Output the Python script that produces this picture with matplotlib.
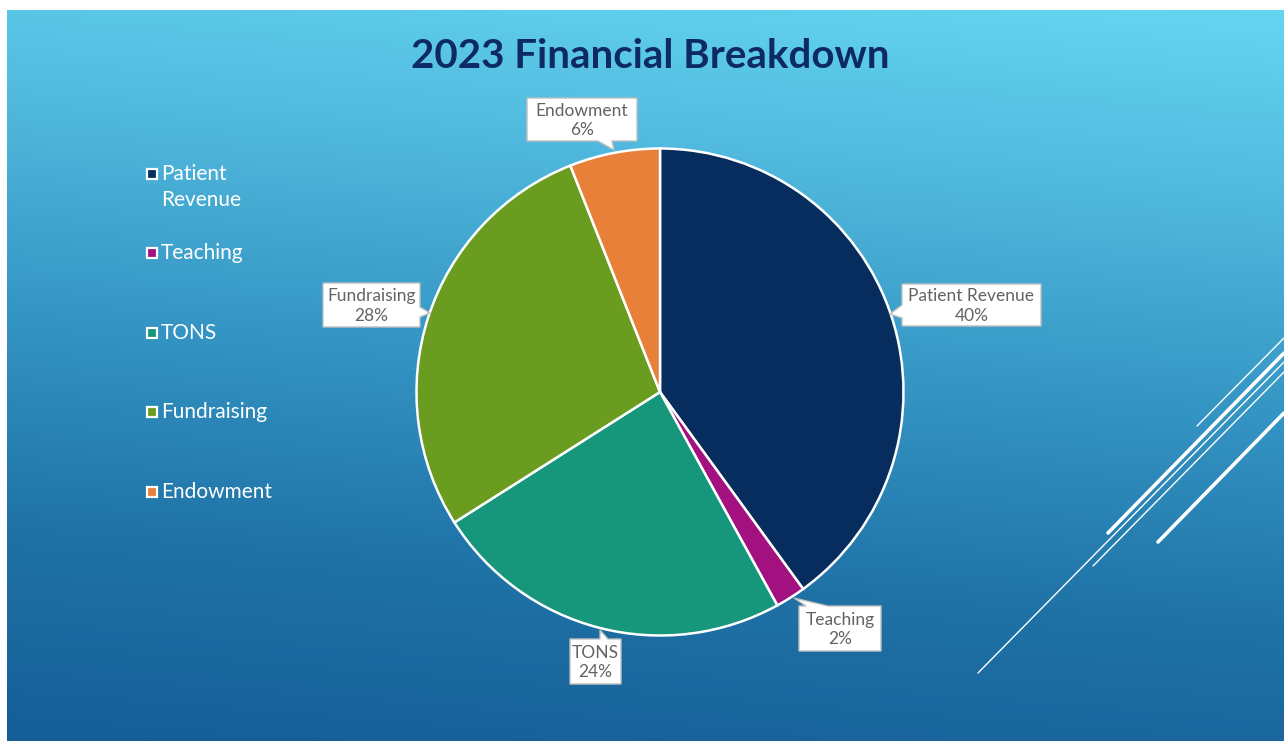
import numpy as np
import matplotlib
matplotlib.use("Agg")
import matplotlib.pyplot as plt
from matplotlib.patches import Polygon, Rectangle
from matplotlib.colors import LinearSegmentedColormap

# ---- data ----
categories = ["Patient Revenue", "Teaching", "TONS", "Fundraising", "Endowment"]
legend_labels = ["Patient\nRevenue", "Teaching", "TONS", "Fundraising", "Endowment"]
values = [40, 2, 24, 28, 6]
colors = ["#062d5e", "#a3107f", "#16967b", "#6a9c1f", "#e8803a"]
title = "2023 Financial Breakdown"

W, H = 1284, 741
fig = plt.figure(figsize=(W / 100, H / 100), dpi=100)
fig.patch.set_facecolor("white")
ax = fig.add_axes([0, 0, 1, 1])

def Y(py):
    return H - py

# background gradient (slide area starts after small white margins)
x0s, y0s = 7, 10
gx = np.linspace(0, 1, 200)
gy = np.linspace(0, 1, 200)
GX, GY = np.meshgrid(gx, gy)
t = np.clip(0.88 * GY + 0.12 * (1 - GX), 0, 1)
cmap = LinearSegmentedColormap.from_list(
    "bg", ["#64d5f1", "#4fb6db", "#3393c2", "#1f72a6", "#165e98"])
ax.imshow(t, cmap=cmap, extent=(x0s, W, 0, Y(y0s)), origin="upper",
          aspect="auto", zorder=0, interpolation="bilinear")

# decorative lines on the right
deco = [((1197, 426), (1284, 338), 1.0),
        ((1108, 533), (1284, 353), 2.6),
        ((978, 673), (1284, 362), 1.0),
        ((1093, 566), (1284, 372), 1.0),
        ((1158, 542), (1284, 413), 2.6)]
for (xa, ya), (xb, yb), lw in deco:
    ax.plot([xa, xb], [Y(ya), Y(yb)], color="white", lw=lw,
            solid_capstyle="round", zorder=1)

# pie
cx, cy, r = 660, 392, 243.5
ax.pie(values, colors=colors, startangle=90, counterclock=False,
       center=(cx, Y(cy)), radius=r, frame=True,
       wedgeprops=dict(edgecolor="white", linewidth=1.8))
ax.set_xlim(0, W)
ax.set_ylim(0, H)
ax.set_aspect("equal")
ax.axis("off")

# callout labels: box (left, top, right, bottom) in px, pointer side, base range, tip
callouts = {
    "Endowment": ((527, 98, 637, 141), "bottom", (598, 612), (614, 150)),
    "Patient Revenue": ((902, 284, 1041, 326), "left", (305, 318), (890, 314)),
    "Teaching": ((799, 606, 881, 651), "top", (806, 828), (794, 598)),
    "TONS": ((570, 639, 621, 684), "top", (600, 608), (600, 630)),
    "Fundraising": ((323, 283, 420, 327), "right", (307, 317), (430, 313)),
}

def callout_poly(box, side, base, tip):
    l, tp, rt, b = box
    if side == "bottom":
        pts = [(l, tp), (rt, tp), (rt, b), (base[1], b), tip, (base[0], b), (l, b)]
    elif side == "top":
        pts = [(l, tp), (base[0], tp), tip, (base[1], tp), (rt, tp), (rt, b), (l, b)]
    elif side == "left":
        pts = [(l, tp), (rt, tp), (rt, b), (l, b), (l, base[1]), tip, (l, base[0])]
    else:
        pts = [(l, tp), (rt, tp), (rt, base[0]), tip, (rt, base[1]), (rt, b), (l, b)]
    return [(px, Y(py)) for px, py in pts]

font = "Lato"
for name, v in zip(categories, values):
    box, side, base, tip = callouts[name]
    poly = Polygon(callout_poly(box, side, base, tip), closed=True,
                   facecolor="white", edgecolor="#bfbfbf", lw=1.0, zorder=5)
    ax.add_patch(poly)
    l, tp, rt, b = box
    ax.text((l + rt) / 2, Y((tp + b) / 2 + 1), f"{name}\n{v}%", ha="center",
            va="center", fontsize=12.5, color="#636363", family=font,
            linespacing=1.25, zorder=6)

# legend
leg_y = [174, 253, 333, 412, 492]
for lab, c, ly in zip(legend_labels, colors, leg_y):
    ax.add_patch(Rectangle((147, Y(ly) - 5), 10, 10, facecolor=c,
                           edgecolor="white", lw=1.6, zorder=5))
    if "\n" in lab:
        ax.text(161, Y(ly - 10), lab, ha="left", va="top", fontsize=15,
                color="white", family=font, zorder=6, linespacing=1.35)
    else:
        ax.text(161, Y(ly), lab, ha="left", va="center", fontsize=15,
                color="white", family=font, zorder=6)

# title
ax.text(650, Y(57), title, ha="center", va="center", fontsize=29,
        fontweight="bold", color="#0e2a66", family=font, zorder=6)

fig.savefig("out.png", dpi=100, facecolor="white")
